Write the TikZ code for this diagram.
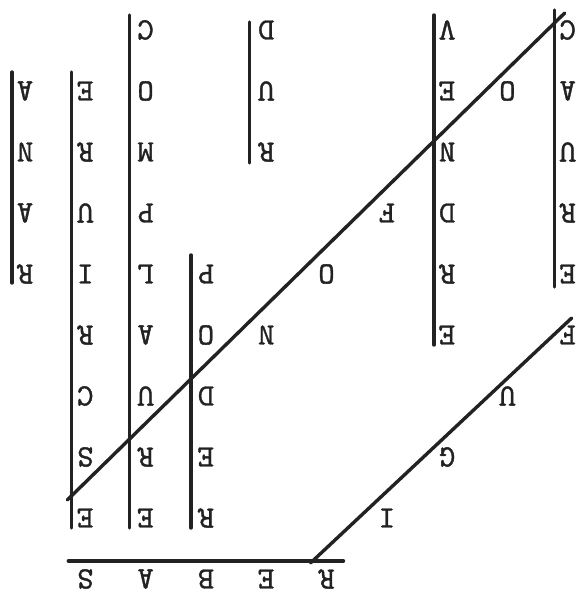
\documentclass[tikz,border=0pt]{standalone}
\usepackage{xcolor}
\usepackage{fontspec}
\usepackage{tikz}
\usetikzlibrary{positioning, calc}
\definecolor{inkgray}{HTML}{222222}
\newfontfamily\typefont{lmmono10-regular.otf}[FakeBold=1.2]

\tikzset{
  letter/.style={font=\fontsize{31}{31}\selectfont\typefont, inner sep=0pt,
                 rotate=180, text=inkgray},
  wordline/.style={line width=3.4pt, draw=inkgray, line cap=round},
}

\begin{document}
\begin{tikzpicture}[x=1pt, y=-1pt]
    \useasboundingbox (0,0) rectangle (585,593);
    % letters of the grid, column/row/letter
    \foreach \c/\r/\t in {0/1/A, 0/2/N, 0/3/A, 0/4/R,
        1/1/E, 1/2/R, 1/3/U, 1/4/I, 1/5/R, 1/6/C, 1/7/S, 1/8/E,
        2/0/C, 2/1/O, 2/2/M, 2/3/P, 2/4/L, 2/5/A, 2/6/U, 2/7/R, 2/8/E,
        3/4/P, 3/5/O, 3/6/D, 3/7/E, 3/8/R,
        4/0/D, 4/1/U, 4/2/R, 4/5/N, 5/4/O, 6/3/F,
        7/0/V, 7/1/E, 7/2/N, 7/3/D, 7/4/R, 7/5/E, 7/7/G,
        8/1/O, 8/6/U, 6/8/I,
        9/0/C, 9/1/A, 9/2/U, 9/3/R, 9/4/E, 9/5/F,
        1/9/S, 2/9/A, 3/9/B, 4/9/E, 5/9/R}
      \node[letter] (l-\c-\r) at (25+60.3*\c, 30+61*\r) {\t};

    % vertical words
    \draw[wordline] ([shift={(-13,-19)}]l-0-1.center) -- ([shift={(-13,9)}]l-0-4.center);
    \draw[wordline] ([shift={(-14,-19)}]l-1-1.center) -- ([shift={(-14,10)}]l-1-8.center);
    \draw[wordline] ([shift={(-16,-15)}]l-2-0.center) -- ([shift={(-16,10)}]l-2-8.center);
    \draw[wordline] ([shift={(-15,-19)}]l-3-4.center) -- ([shift={(-15,10)}]l-3-8.center);
    \draw[wordline] ([shift={(-17,-8)}]l-4-0.center) -- ([shift={(-17,11)}]l-4-2.center);
    \draw[wordline] ([shift={(-13,-15)}]l-7-0.center) -- ([shift={(-13,10)}]l-7-5.center);
    \draw[wordline] ([shift={(-13,-20)}]l-9-0.center) -- ([shift={(-13,13)}]l-9-4.center);

    % horizontal and diagonal words
    \draw[wordline] ([shift={(-17,-18)}]l-1-9.center) -- ([shift={(17,-18)}]l-5-9.center);
    \draw[wordline] ([shift={(-18,-18)}]l-1-8.center) -- ([shift={(-3,-17)}]l-9-0.center);
    \draw[wordline] ([shift={(-16,-16)}]l-5-9.center) -- ([shift={(4,-17)}]l-9-5.center);
\end{tikzpicture}
\end{document}
